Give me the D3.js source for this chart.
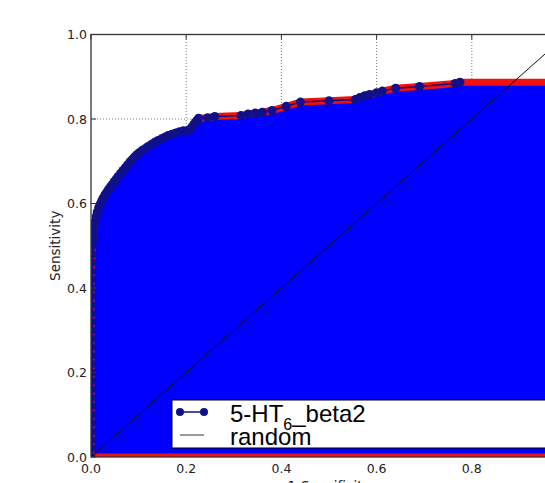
<!DOCTYPE html>
<html>
<head>
  <meta charset="utf-8">
  <script src="https://d3js.org/d3.v7.min.js"></script>
  <style>
    body { margin:0; background:#fff; }
    text { font-family: "DejaVu Sans", sans-serif; fill:#222; }
    .legend text { font-family: "Liberation Sans", Arial, sans-serif; fill:#000; }
  </style>
</head>
<body>
  <div id="container"></div>
  <script>
    var w = 545, h = 483;
    var margin = {left: 91, top: 34.5};
    var plotW = 476, plotH = 422.5;

    // ROC curve (false positive rate, true positive rate)
    var fpr = [0, 0, 0, 0, 0, 0, 0, 0, 0, 0, 0, 0, 0, 0, 0, 0, 0, 0, 0, 0, 0, 0, 0,
               0.001, 0.002, 0.003, 0.004, 0.005, 0.007, 0.009, 0.011, 0.013, 0.016, 0.019, 0.022,
               0.025, 0.029, 0.033, 0.037, 0.041, 0.045, 0.049, 0.053, 0.057, 0.062, 0.067, 0.072,
               0.077, 0.082, 0.087, 0.092, 0.097, 0.102, 0.108, 0.114, 0.12, 0.127, 0.134, 0.141,
               0.148, 0.155, 0.162, 0.17, 0.178, 0.186, 0.194, 0.203, 0.208, 0.212, 0.216, 0.219,
               0.222, 0.226, 0.245, 0.26, 0.315, 0.33, 0.345, 0.36, 0.38, 0.41, 0.44, 0.5,
               0.555, 0.565, 0.575, 0.585, 0.6, 0.612, 0.64, 0.69, 0.765, 0.775];
    var tpr = [0, 0.02, 0.04, 0.06, 0.08, 0.1, 0.12, 0.14, 0.16, 0.18, 0.2, 0.22, 0.24, 0.26, 0.28,
               0.3, 0.32, 0.34, 0.36, 0.38, 0.4, 0.42, 0.44,
               0.46, 0.48, 0.5, 0.515, 0.53, 0.545, 0.558, 0.57, 0.58, 0.59, 0.598, 0.605,
               0.612, 0.62, 0.627, 0.634, 0.64, 0.646, 0.652, 0.658, 0.664, 0.671, 0.678, 0.685,
               0.692, 0.699, 0.705, 0.711, 0.716, 0.721, 0.726, 0.73, 0.735, 0.74, 0.745, 0.749,
               0.753, 0.757, 0.761, 0.764, 0.767, 0.77, 0.772, 0.773, 0.776, 0.781, 0.787, 0.792,
               0.796, 0.802, 0.803, 0.806, 0.808, 0.812, 0.814, 0.816, 0.82, 0.83, 0.84, 0.843,
               0.846, 0.851, 0.855, 0.858, 0.862, 0.866, 0.873, 0.877, 0.884, 0.887];
    var randomX = [0, 1];
    var randomY = [0, 1];
    var ticks = [0.0, 0.2, 0.4, 0.6, 0.8, 1.0];
    var seriesName = ["5-HT", "6", "_beta2"];
    var randomName = "random";
    var xTitle = "1-Specificity";
    var yTitle = "Sensitivity";

    var roc = fpr.map(function(d, i) { return [d, tpr[i]]; });
    // the filled region keeps its last height up to fpr = 1
    var fillPts = roc.concat([[1, tpr[tpr.length - 1]]]);

    var svg = d3.select("#container").append("svg")
        .attr("width", w).attr("height", h);

    var x = d3.scaleLinear().domain([0, 1]).range([margin.left, margin.left + plotW]);
    var y = d3.scaleLinear().domain([0, 1]).range([margin.top + plotH, margin.top]);

    svg.append("clipPath").attr("id", "clip")
      .append("rect")
        .attr("x", x(0)).attr("y", y(1))
        .attr("width", plotW).attr("height", plotH);

    // grid
    var grid = svg.append("g");
    ticks.slice(1, 5).forEach(function(t) {
      grid.append("line")
        .attr("x1", x(t)).attr("x2", x(t)).attr("y1", y(0)).attr("y2", y(1))
        .attr("stroke", "#555").attr("stroke-width", 0.8).attr("stroke-dasharray", "1,2");
      grid.append("line")
        .attr("x1", x(0)).attr("x2", x(1)).attr("y1", y(t)).attr("y2", y(t))
        .attr("stroke", "#555").attr("stroke-width", 0.8).attr("stroke-dasharray", "1,2");
    });

    var g = svg.append("g").attr("clip-path", "url(#clip)");

    var area = d3.area()
        .x(function(d) { return x(d[0]); })
        .y0(y(0))
        .y1(function(d) { return y(d[1]); });

    g.append("path")
      .datum(fillPts)
      .attr("d", area)
      .attr("fill", "#0000ff")
      .attr("stroke", "#f01010")
      .attr("stroke-width", 7)
      .attr("stroke-linejoin", "round");

    var line = d3.line()
        .x(function(d) { return x(d[0]); })
        .y(function(d) { return y(d[1]); });

    g.append("path")
      .datum(roc)
      .attr("d", line)
      .attr("fill", "none")
      .attr("stroke", "#0c0c80")
      .attr("stroke-width", 1.5);

    g.selectAll("circle.pt")
      .data(roc)
      .enter().append("circle")
        .attr("class", "pt")
        .attr("cx", function(d) { return x(d[0]); })
        .attr("cy", function(d) { return y(d[1]); })
        .attr("r", 4.5)
        .attr("fill", "#10108a");

    g.append("path")
      .datum(randomX.map(function(d, i) { return [d, randomY[i]]; }))
      .attr("d", line)
      .attr("fill", "none")
      .attr("stroke", "#111")
      .attr("stroke-width", 1);

    // legend
    var lg = svg.append("g").attr("class", "legend");
    lg.append("rect")
      .attr("x", 172).attr("y", 400).attr("width", 390).attr("height", 48)
      .attr("fill", "#fff").attr("stroke", "#000").attr("stroke-width", 1);
    lg.append("line")
      .attr("x1", 180).attr("x2", 204).attr("y1", 412).attr("y2", 412)
      .attr("stroke", "#0c0c80").attr("stroke-width", 1.5);
    [180, 204].forEach(function(cx) {
      lg.append("circle").attr("cx", cx).attr("cy", 412).attr("r", 4).attr("fill", "#10108a");
    });
    lg.append("line")
      .attr("x1", 180).attr("x2", 204).attr("y1", 435).attr("y2", 435)
      .attr("stroke", "#333").attr("stroke-width", 1);
    var t1 = lg.append("text").attr("x", 230).attr("y", 422).attr("font-size", "24px");
    t1.append("tspan").text(seriesName[0]);
    t1.append("tspan").attr("font-size", "16px").attr("dy", 8).text(seriesName[1]);
    t1.append("tspan").attr("dy", -8).text(seriesName[2]);
    lg.append("text").attr("x", 230).attr("y", 445).attr("font-size", "24px").text(randomName);

    // spines
    svg.append("rect")
      .attr("x", x(0)).attr("y", y(1)).attr("width", plotW).attr("height", plotH)
      .attr("fill", "none").attr("stroke", "#333").attr("stroke-width", 1.3);

    // ticks and labels
    var ax = svg.append("g");
    ticks.forEach(function(t) {
      ax.append("line").attr("x1", x(0)).attr("x2", x(0) + 5).attr("y1", y(t)).attr("y2", y(t))
        .attr("stroke", "#333");
      ax.append("line").attr("x1", x(t)).attr("x2", x(t)).attr("y1", y(1)).attr("y2", y(1) + 5)
        .attr("stroke", "#333");
      ax.append("text")
        .attr("x", x(0) - 4).attr("y", y(t)).attr("dy", "0.36em")
        .attr("text-anchor", "end").attr("font-size", "12.5px")
        .text(d3.format(".1f")(t));
      ax.append("text")
        .attr("x", x(t)).attr("y", y(0) + 11).attr("dy", "0.36em")
        .attr("text-anchor", "middle").attr("font-size", "12.5px")
        .text(d3.format(".1f")(t));
    });

    svg.append("text")
      .attr("transform", "translate(55," + (margin.top + plotH / 2) + ") rotate(-90)")
      .attr("text-anchor", "middle").attr("dy", "0.36em").attr("font-size", "13.5px")
      .text(yTitle);
    svg.append("text")
      .attr("x", margin.left + plotW / 2).attr("y", 491)
      .attr("text-anchor", "middle").attr("font-size", "13.5px")
      .text(xTitle);
  </script>
</body>
</html>
